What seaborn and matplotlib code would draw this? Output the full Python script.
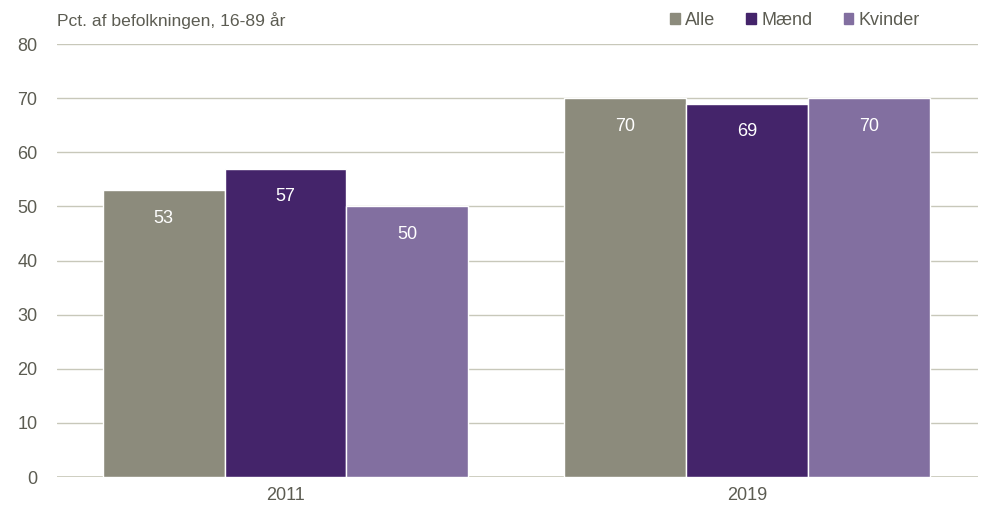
import matplotlib
matplotlib.use("Agg")
import matplotlib.pyplot as plt
import pandas as pd
import seaborn as sns

# data
years = ["2011", "2019"]
groups = ["Alle", "Mænd", "Kvinder"]
alle = [53, 70]
maend = [57, 69]
kvinder = [50, 70]

df = pd.DataFrame({
    "year": years * 3,
    "group": [g for g in groups for _ in years],
    "value": alle + maend + kvinder,
})

colors = ["#8C8B7C", "#44246A", "#826FA0"]
text_col = "#5C5C52"
grid_col = "#C8C8BA"

sns.set_style("white")
plt.rcParams["font.family"] = ["Liberation Sans", "DejaVu Sans"]

fig = plt.figure(figsize=(9.82, 5.13), dpi=100)
ax = fig.add_axes([0.058, 0.070, 0.938, 0.844])

sns.barplot(data=df, x="year", y="value", hue="group", hue_order=groups,
            palette=colors, width=0.792, saturation=1, ax=ax,
            edgecolor="white", linewidth=1, legend=False)

ax.set_ylim(0, 80)
ax.set_xlim(-0.495, 1.5)
ax.set_yticks(range(0, 81, 10))
ax.yaxis.grid(True, color=grid_col, linewidth=1)
ax.set_axisbelow(True)
sns.despine(ax=ax, left=True, top=True, right=True, bottom=True)
ax.axhline(0, color=grid_col, linewidth=1.2, zorder=0.5)
ax.tick_params(axis="both", length=0, labelsize=13, labelcolor=text_col)
ax.tick_params(axis="y", pad=14)
ax.tick_params(axis="x", pad=7)
ax.set_xlabel("")
ax.set_ylabel("")

# value labels inside the bars
for cont in ax.containers:
    for bar in cont:
        h = bar.get_height()
        ax.annotate(f"{h:.0f}", (bar.get_x() + bar.get_width() / 2, h),
                    xytext=(0, -20), textcoords="offset points",
                    ha="center", va="center", color="white", fontsize=13)

fig.text(0.058, 0.960, "Pct. af befolkningen, 16-89 år", fontsize=12.6,
         color=text_col, va="center", ha="left")

handles = [plt.Rectangle((0, 0), 1, 1, color=c) for c in colors]
fig.legend(handles, groups, loc="center right", bbox_to_anchor=(0.937, 0.960),
           ncol=3, frameon=False, fontsize=13, labelcolor=text_col,
           handlelength=0.55, handleheight=0.55, handletextpad=0.3,
           columnspacing=1.7, borderaxespad=0, borderpad=0)

fig.savefig("out.png", dpi=100)
